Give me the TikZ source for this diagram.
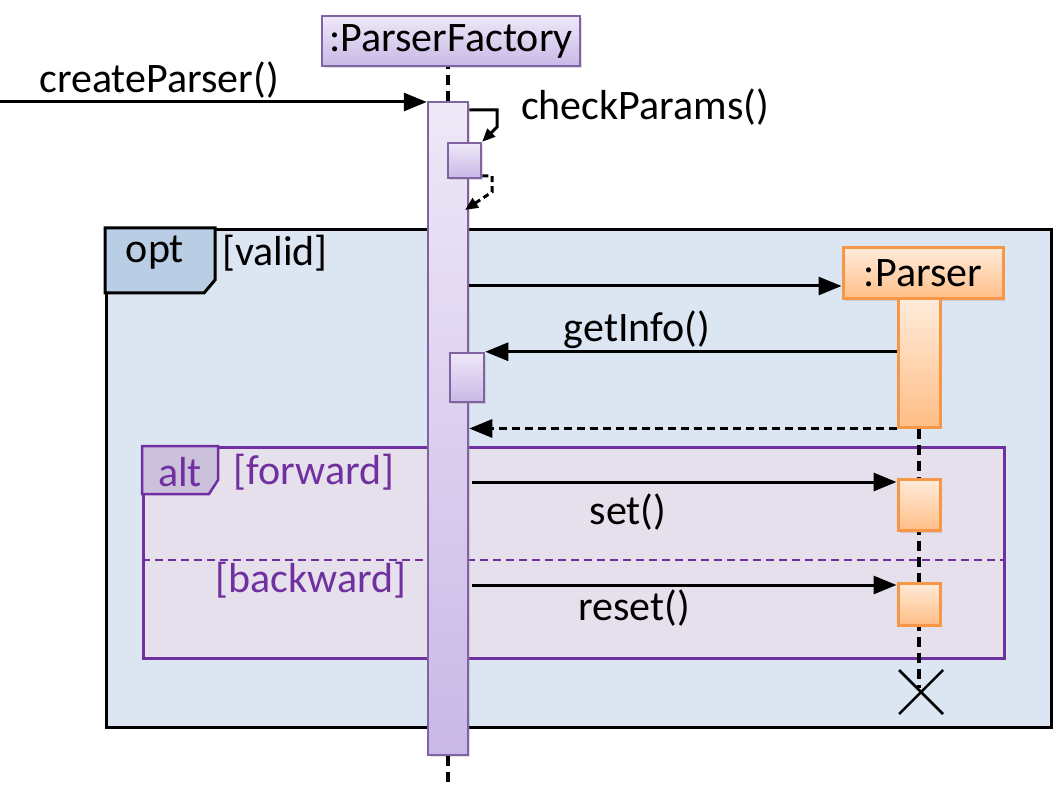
\documentclass[tikz,border=0pt]{standalone}
\usepackage{fontspec}
\setmainfont{Carlito}
\usetikzlibrary{arrows.meta,shadows}
\definecolor{pfTop}{HTML}{EEE8F7}
\definecolor{pfBot}{HTML}{C9B8E6}
\definecolor{pfLine}{HTML}{8064A2}
\definecolor{prTop}{HTML}{FFEBDA}
\definecolor{prBot}{HTML}{FFBE86}
\definecolor{prLine}{HTML}{F79646}
\definecolor{optFill}{HTML}{DCE6F2}
\definecolor{optTab}{HTML}{B9CDE5}
\definecolor{altFill}{HTML}{E6E0EC}
\definecolor{altTab}{HTML}{CCC1DA}
\definecolor{altLine}{HTML}{7030A0}
\tikzset{
  txt/.style={font=\fontsize{42}{50}\selectfont, inner sep=0pt},
  pfbox/.style={draw=pfLine, line width=2.5pt, top color=pfTop, bottom color=pfBot, inner sep=0pt,
    drop shadow={opacity=0.25, shadow xshift=2pt, shadow yshift=-2pt}},
  prbox/.style={draw=prLine, line width=3pt, top color=prTop, bottom color=prBot, inner sep=0pt,
    drop shadow={opacity=0.25, shadow xshift=2pt, shadow yshift=-2pt}},
  lifeline/.style={line width=4.5pt, dash pattern=on 10pt off 6pt},
  msg/.style={line width=3pt, -{Triangle[length=23pt,width=18pt]}},
  smallmsg/.style={line width=3pt, -{Triangle[length=13pt,width=11pt]}},
  ret/.style={line width=3pt, dash pattern=on 8pt off 5pt, -{Triangle[length=23pt,width=18pt]}},
  smallret/.style={line width=3pt, dash pattern=on 6pt off 4pt, -{Triangle[length=13pt,width=11pt]}},
}
\begin{document}
\begin{tikzpicture}[x=1pt,y=-1pt]
\useasboundingbox (0,0) rectangle (1054,799);
% opt frame
\node[draw=black, line width=3pt, fill=optFill, minimum width=945pt, minimum height=498pt, anchor=north west, inner sep=0pt] (opt) at (105,228) {};
\draw[line width=3pt, fill=optTab] (105,228) -- (215,228) -- (215,280) -- (204,293) -- (105,293) -- cycle;
\node[txt] (optlbl) at (155,253) {opt};
\node[txt, anchor=west] (valid) at (222,253) {[valid]};
% alt frame
\node[draw=altLine, line width=2.5pt, fill=altFill, minimum width=861pt, minimum height=211pt, anchor=north west, inner sep=0pt] (alt) at (142,446) {};
\draw[line width=2.5pt, draw=altLine, fill=altTab] (142,446) -- (218,446) -- (218,480) -- (209,494) -- (142,494) -- cycle;
\draw[altLine, line width=2.5pt, dash pattern=on 8pt off 5pt] (alt.west |- 0,560) -- (alt.east |- 0,560);
\node[txt, text=altLine] (altlbl) at (180,472) {alt};
\node[txt, text=altLine] (fwd) at (314,472) {[forward]};
\node[txt, text=altLine] (bwd) at (311,580) {[backward]};
% ParserFactory
\node[pfbox, minimum width=258pt, minimum height=50pt] (pf) at (451,41) {};
\node[txt] (pft) at (451,41) {:ParserFactory};
\node[pfbox, minimum width=40pt, minimum height=653pt] (pfa) at (448,428.5) {};
\draw[lifeline] (pfa.north) -- (pfa.north |- pf.south);
\coordinate (pfend) at (448,786);
\draw[lifeline] (pfa.south) -- (pfend);
% createParser
\coordinate (cpstart) at (0,102);
\draw[msg] (cpstart) -- (cpstart -| pfa.west);
\node[txt] (cpl) at (159,80) {createParser()};
% checkParams
\node[pfbox, minimum width=33pt, minimum height=35pt] (chk) at (464.5,160.5) {};
\draw[smallmsg] (pfa.east |- 0,110) -- (497,110) -- (497,127) -- (chk.north east);
\coordinate (chkret) at (465,210);
\draw[smallret] (chk.east |- 0,176) -- (492,176) -- (492,192) -- (chkret);
\node[txt] (chkl) at (645,107) {checkParams()};
% Parser
\node[prbox, minimum width=160pt, minimum height=51pt] (pr) at (923,273.5) {};
\node[txt] (prt) at (923,273.5) {:Parser};
\draw[msg] (pfa.east |- 0,286) -- (pr.west |- 0,286);
\node[prbox, minimum width=42pt, minimum height=128pt] (pra) at (919,363) {};
% getInfo
\node[pfbox, minimum width=34pt, minimum height=49pt] (gi) at (467,377.5) {};
\draw[msg] (pra.west |- gi.north) -- (gi.north east);
\node[txt] (gil) at (637,330) {getInfo()};
\draw[ret] (pra.south west) -- (pfa.east |- pra.south);
% parser lifeline
\coordinate (prend) at (919,688);
\draw[lifeline] (pra.south) -- (prend);
% set
\node[prbox, minimum width=42pt, minimum height=51pt] (setb) at (919,505) {};
\draw[msg] (472,482) -- (setb.west |- 0,482);
\node[txt] (setl) at (628,512) {set()};
% reset
\node[prbox, minimum width=42pt, minimum height=42pt] (rsb) at (919,604) {};
\draw[msg] (472,585) -- (rsb.west |- 0,585);
\node[txt] (rsl) at (634,608) {reset()};
% destroy
\coordinate (dx) at (921,692);
\draw[line width=2.5pt] ([shift={(-22,-22)}]dx) -- ([shift={(22,22)}]dx);
\draw[line width=2.5pt] ([shift={(22,-22)}]dx) -- ([shift={(-22,22)}]dx);
\end{tikzpicture}
\end{document}
